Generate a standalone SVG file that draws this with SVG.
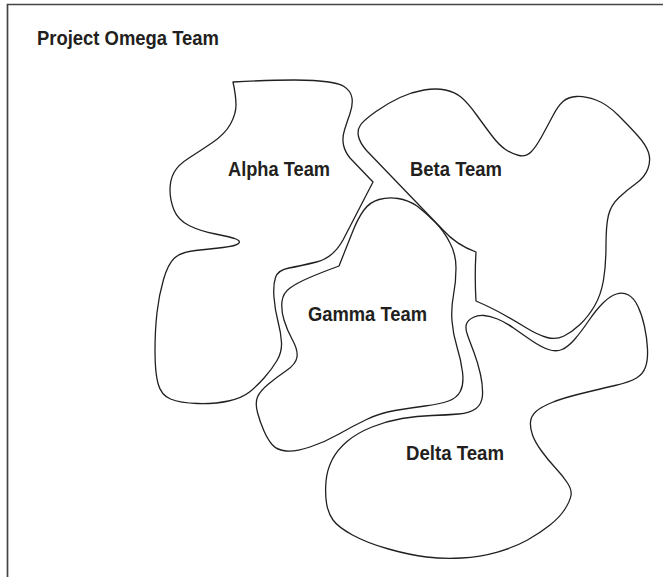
<svg xmlns="http://www.w3.org/2000/svg" width="663" height="577" viewBox="0 0 663 577">
<style>
.blob{fill:none;stroke:#231f20;stroke-width:1.3;stroke-linejoin:round}
.lbl{font-family:"Liberation Sans",Arial,sans-serif;font-weight:bold;font-size:21px;fill:#231f20}
</style>
<rect width="663" height="577" fill="#ffffff"/>
<g id="frame">
<path d="M 7.5,577 L 7.5,4.5 L 663,4.5" fill="none" stroke="#444" stroke-width="1.7"/>
</g>
<g id="title">
<text class="lbl" x="37" y="45" textLength="182" lengthAdjust="spacingAndGlyphs">Project Omega Team</text>
</g>
<g id="alpha">
<path class="blob" d="M 233,82 Q 290,79 313.5,80.5 Q 337,82 344,86.5 Q 351,91 352,98 Q 353,105 350,113.5 Q 347,122 344.5,130 Q 342,138 343.5,145 Q 345,152 350,158 L 373,182 L 343,240 Q 333,258 316.5,262 Q 300,266 289,268 Q 278,270 275.5,277.5 Q 273,285 274,297.5 Q 275,310 278,321.5 Q 281,333 281.5,342.5 Q 282,352 277,360.5 Q 272,369 264.5,377.5 Q 257,386 249.5,392 Q 242,398 228.5,401 Q 215,404 197.5,403.5 Q 180,403 170.5,399 Q 161,395 158,383.5 Q 155,372 155,351 Q 155,330 157,312.5 Q 159,295 163.5,279.5 Q 168,264 174.5,258 Q 181,252 195.5,250.5 Q 210,249 223,247.5 Q 236,246 238.5,243.5 Q 241,241 236,239 Q 231,237 215.5,234 Q 200,231 189,225.5 Q 178,220 174,210 Q 170,200 170,190 Q 170,180 174,172.5 Q 178,165 189,158 Q 200,151 212.5,142.5 Q 225,134 230.5,124 Q 236,114 236,105 Q 236,96 233,82 Z"/>
<text class="lbl" x="228" y="176" textLength="102" lengthAdjust="spacingAndGlyphs">Alpha Team</text>
</g>
<g id="beta">
<path class="blob" d="M 476,301 Q 492,308 503.5,314.5 Q 515,321 526.5,328 Q 538,335 547,337.5 Q 556,340 564,336 Q 572,332 580,324.5 Q 588,317 594.5,306 Q 601,295 603.5,280 Q 606,265 606,245 Q 606,225 608.5,215 Q 611,205 619,197.5 Q 627,190 636,183.5 Q 645,177 648,168.5 Q 651,160 648.5,152.5 Q 646,145 638,136 Q 630,127 618.5,115.5 Q 607,104 596,100 Q 585,96 576.5,96.5 Q 568,97 563,101.5 Q 558,106 553,115.5 Q 548,125 542,136 Q 536,147 531,152 Q 526,157 519,155.5 Q 512,154 505.5,149.5 Q 499,145 492.5,136.5 Q 486,128 477,115.5 Q 468,103 461.5,97.5 Q 455,92 445.5,90 Q 436,88 424,90 Q 412,92 400,97.5 Q 388,103 376,111.5 Q 364,120 360.5,125 Q 357,130 358.5,136.5 Q 360,143 366.5,150.5 L 443,230 Q 456.5,245 476,252 Q 474.5,276 476,301 Z"/>
<text class="lbl" x="410" y="176" textLength="92" lengthAdjust="spacingAndGlyphs">Beta Team</text>
</g>
<g id="gamma">
<path class="blob" d="M 339,266 Q 347,246 352.5,232 Q 358,218 364,210 Q 370,202 379,199.5 Q 388,197 398,198.5 Q 408,200 417,206 Q 426,213 435,222 Q 444,231 450,243 Q 456,254 456,268 Q 456,282 453.5,295 Q 451,308 452,321 Q 453,334 457,347 Q 461,360 462.5,372 Q 464,384 460.5,391 Q 457,398 448.5,401 Q 440,404 425,406 Q 410,408 395,410.5 Q 380,413 366.5,419.5 Q 353,426 339,434 Q 325,442 310,447 Q 295,452 286,451 Q 277,450 272.5,445 Q 268,440 264,431 Q 260,422 257.5,412.5 Q 255,403 257.5,397 Q 260,391 268.5,384 Q 277,377 286.5,370.5 Q 296,364 297,357 Q 298,350 292.5,340 Q 287,330 284,320 Q 281,310 282,301.5 Q 283,293 290,288 Q 297,283 308.5,278 Q 320,273 339,266 Z"/>
<text class="lbl" x="308" y="320.5" textLength="119" lengthAdjust="spacingAndGlyphs">Gamma Team</text>
</g>
<g id="delta">
<path class="blob" d="M 466.5,324 Q 468,320 473,317.5 Q 478,315 484,315.5 Q 490,316 497.5,319 Q 505,322 513.5,328 Q 522,334 531.5,340.5 Q 541,347 548.5,349.5 Q 556,352 562,349.5 Q 568,347 574.5,339.5 Q 581,332 588.5,321 Q 596,310 603,303 Q 610,296 616.5,294 Q 623,292 628.5,295 Q 634,298 638,306.5 Q 642,315 644.5,326.5 Q 647,338 647.5,349 Q 648,360 645.5,367 Q 643,374 636.5,378 Q 630,382 615,385.5 Q 600,389 581.5,393.5 Q 563,398 552,402.5 Q 541,407 536,411.5 Q 531,416 530.5,422 Q 530,428 532.5,435 Q 535,442 541.5,451 Q 548,460 555.5,468 Q 563,476 567.5,483 Q 572,490 571,495.5 Q 570,501 565,509 Q 560,517 550,525 Q 540,533 527.5,540 Q 515,547 497.5,552 Q 480,557 461.5,558 Q 443,559 426.5,557 Q 410,555 388.5,549 Q 367,543 352.5,535 Q 338,527 333,520 Q 328,513 326.5,503 Q 325,493 326,481.5 Q 327,470 332,460 Q 337,450 347,441.5 Q 357,433 372,427 Q 387,421 402,418.5 Q 417,416 432,415.5 Q 447,415 458.5,414 Q 470,413 476,408.5 Q 482,404 482.5,395 Q 483,386 480.5,374.5 Q 478,363 474,352.5 Q 470,342 467.5,335 Q 465,328 466.5,324 Z"/>
<text class="lbl" x="406" y="460" textLength="98" lengthAdjust="spacingAndGlyphs">Delta Team</text>
</g>
<g id="connectors"/>
</svg>
